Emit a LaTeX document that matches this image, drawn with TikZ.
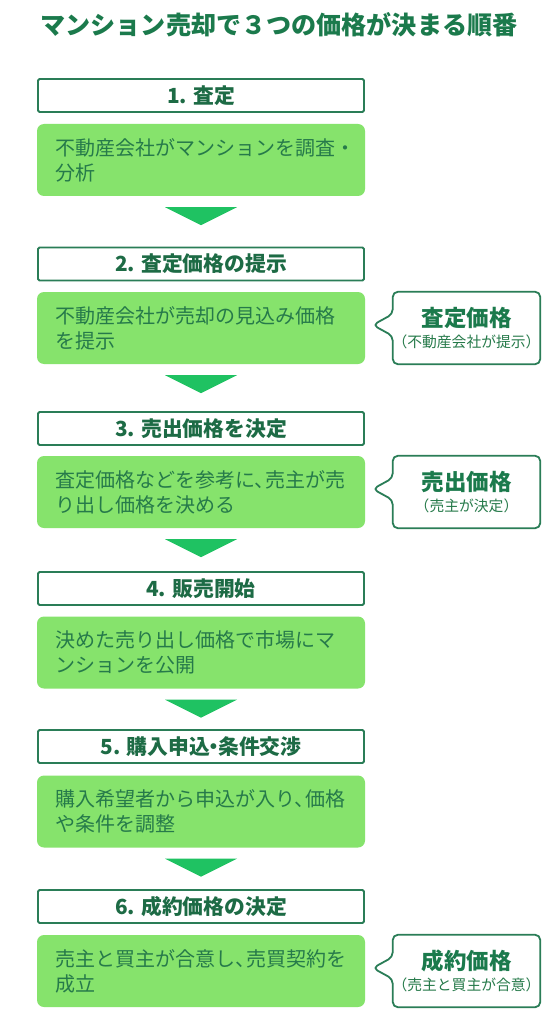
\documentclass[tikz,border=0pt]{standalone}
\usepackage{fontspec}
\setmainfont{Noto Sans CJK JP}
\usetikzlibrary{calc}
\definecolor{titlegreen}{HTML}{1B7A4C}
\definecolor{edgegreen}{HTML}{2A7D57}
\definecolor{headtext}{HTML}{1D6B45}
\definecolor{boxfill}{HTML}{86E36C}
\definecolor{boxtext}{HTML}{267A4A}
\definecolor{arrowgreen}{HTML}{1FC262}
\newcommand{\tcomma}{、\kern-.45em}
\tikzset{
  headbox/.style={draw=edgegreen, line width=1.8pt, fill=white, minimum width=326pt, minimum height=33pt,
    inner sep=0pt, font=\fontsize{20.8}{24}\selectfont\bfseries, text=headtext, rounded corners=1.5pt},
  bodybox/.style={fill=boxfill, minimum width=328pt, minimum height=72pt, rounded corners=7pt, inner sep=0pt},
  bodytext/.style={anchor=west, inner sep=0pt, align=left,
    font=\fontsize{20}{25}\selectfont, text=boxtext},
  downarrow/.style={fill=arrowgreen, draw=none},
  callbox/.style={minimum width=147pt, minimum height=72pt, inner sep=0pt},
  callline/.style={draw=edgegreen, line width=1.8pt, fill=white, rounded corners=5pt, line join=round},
  calltitle/.style={font=\fontsize{22.5}{26}\selectfont\bfseries, text=titlegreen, inner sep=0pt},
  callsub/.style={font=\fontsize{14.8}{17}\selectfont, text=boxtext, inner sep=0pt},
}
\begin{document}
\begin{tikzpicture}[x=1pt,y=-1pt]
\useasboundingbox (0,0) rectangle (558,1024);
\fill[white] (0,0) rectangle (558,1024);

\node[font=\fontsize{25.1}{28}\selectfont\bfseries, text=titlegreen, inner sep=0pt] (title) at (279,25) {マンション売却で３つの価格が決まる順番};

% step 1
\node[headbox] (h1) at (201,95.5) {1. 査定};
\node[bodybox] (b1) at (201,160) {};
\node[bodytext] (t1) at ($(b1.west)+(18,0)$) {不動産会社がマンションを調査・\\分析};
% step 2
\node[headbox] (h2) at (201,264) {2. 査定価格の提示};
\node[bodybox] (b2) at (201,328) {};
\node[bodytext] (t2) at ($(b2.west)+(18,0)$) {不動産会社が売却の見込み価格\\を提示};
% step 3
\node[headbox] (h3) at (201,428.5) {3. 売出価格を決定};
\node[bodybox] (b3) at (201,492) {};
\node[bodytext] (t3) at ($(b3.west)+(18,0)$) {査定価格などを参考に\tcomma 売主が売\\り出し価格を決める};
% step 4
\node[headbox] (h4) at (201,588.5) {4. 販売開始};
\node[bodybox] (b4) at (201,652.5) {};
\node[bodytext] (t4) at ($(b4.west)+(18,0)$) {決めた売り出し価格で市場にマ\\ンションを公開};
% step 5
\node[headbox] (h5) at (201,746.5) {5. 購入申込\kern-.3em・\kern-.3em 条件交渉};
\node[bodybox] (b5) at (201,811.5) {};
\node[bodytext] (t5) at ($(b5.west)+(18,0)$) {購入希望者から申込が入り\tcomma 価格\\や条件を調整};
% step 6
\node[headbox] (h6) at (201,906.5) {6. 成約価格の決定};
\node[bodybox] (b6) at (201,971) {};
\node[bodytext] (t6) at ($(b6.west)+(18,0)$) {売主と買主が合意し\tcomma 売買契約を\\成立};

% arrows
\foreach \b in {b1,b2,b3,b4,b5}{
  \fill[downarrow] ($(\b.south)+(-36,11)$) -- ($(\b.south)+(36,11)$) -- ($(\b.south)+(0,29)$) -- cycle;
}

% callouts
\foreach \c/\y/\t/\s in {c2/328/査定価格/（不動産会社が提示）, c3/492/売出価格/（売主が決定）, c6/971/成約価格/（売主と買主が合意）}{
  \node[callbox] (\c) at (466.5,\y) {};
  \draw[callline] ($(\c.west)+(-20,-3)$) -- ($(\c.west)+(0,-14)$) -- (\c.north west) -- (\c.north east)
     -- (\c.south east) -- (\c.south west) -- ($(\c.west)+(0,8)$) -- cycle;
  \node[calltitle] (\c t) at ($(\c.center)+(0,-10)$) {\t};
  \node[callsub] (\c s) at ($(\c.center)+(0,14)$) {\s};
}
\end{tikzpicture}
\end{document}
